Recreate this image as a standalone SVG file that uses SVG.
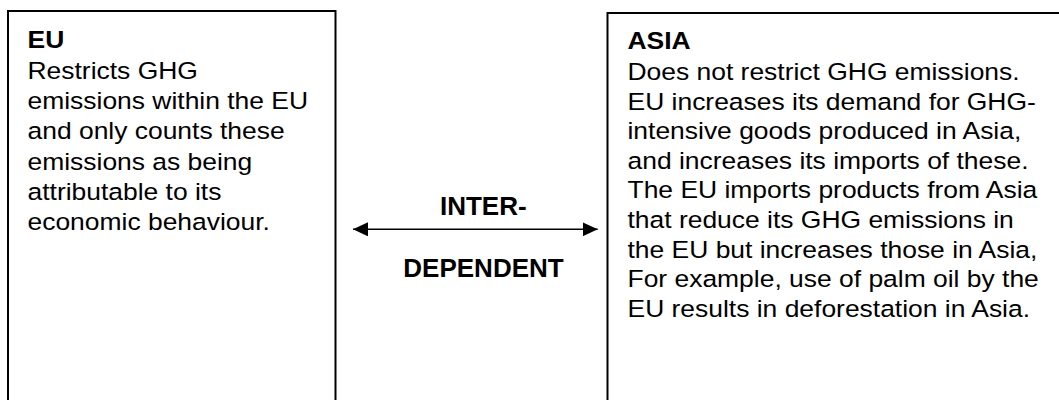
<svg xmlns="http://www.w3.org/2000/svg" width="1059" height="400" viewBox="0 0 1059 400">
<style>
.box{fill:#fff;stroke:#000;stroke-width:2}
.t{font-family:"Liberation Sans",Arial,sans-serif;font-size:23.3px;fill:#000}
.b{font-weight:bold}
.c{font-family:"Liberation Sans",Arial,sans-serif;font-size:26px;font-weight:bold;fill:#000;text-anchor:middle}
.line{stroke:#000;stroke-width:1.6;fill:none}
</style>
<defs>
<marker id="ah" viewBox="0 0 15 14" refX="15" refY="7" markerWidth="15" markerHeight="14" markerUnits="userSpaceOnUse" orient="auto-start-reverse">
<path d="M0,0 L15,7 L0,14 Z" fill="#000"/>
</marker>
</defs>
<rect width="1059" height="400" fill="#fff"/>
<g id="eu">
<rect class="box" x="8" y="11" width="327.5" height="420"/>
<g transform="translate(27.5 0) scale(1.135 1)">
<text class="t b" x="0" y="48.3">EU</text>
<text class="t" x="0" y="79.3">Restricts GHG</text>
<text class="t" x="0" y="109.4">emissions within the EU</text>
<text class="t" x="0" y="139.5">and only counts these</text>
<text class="t" x="0" y="169.7">emissions as being</text>
<text class="t" x="0" y="199.8">attributable to its</text>
<text class="t" x="0" y="230">economic behaviour.</text>
</g>
</g>
<g id="asia">
<rect class="box" x="607.5" y="13" width="470" height="420"/>
<g transform="translate(627.5 0) scale(1.135 1)">
<text class="t b" x="0" y="49.5">ASIA</text>
<text class="t" x="0" y="80">Does not restrict GHG emissions.</text>
<text class="t" x="0" y="109.6">EU increases its demand for GHG-</text>
<text class="t" x="0" y="139.2">intensive goods produced in Asia,</text>
<text class="t" x="0" y="168.8">and increases its imports of these.</text>
<text class="t" x="0" y="198.4">The EU imports products from Asia</text>
<text class="t" x="0" y="228">that reduce its GHG emissions in</text>
<text class="t" x="0" y="257.6">the EU but increases those in Asia,</text>
<text class="t" x="0" y="287.2">For example, use of palm oil by the</text>
<text class="t" x="0" y="316.8">EU results in deforestation in Asia.</text>
</g>
</g>
<g id="connectors">
<line class="line" x1="353" y1="229.3" x2="597.7" y2="229.3" marker-start="url(#ah)" marker-end="url(#ah)"/>
<text class="c" x="483.3" y="215">INTER-</text>
<text class="c" x="483.5" y="277.3">DEPENDENT</text>
</g>
</svg>
